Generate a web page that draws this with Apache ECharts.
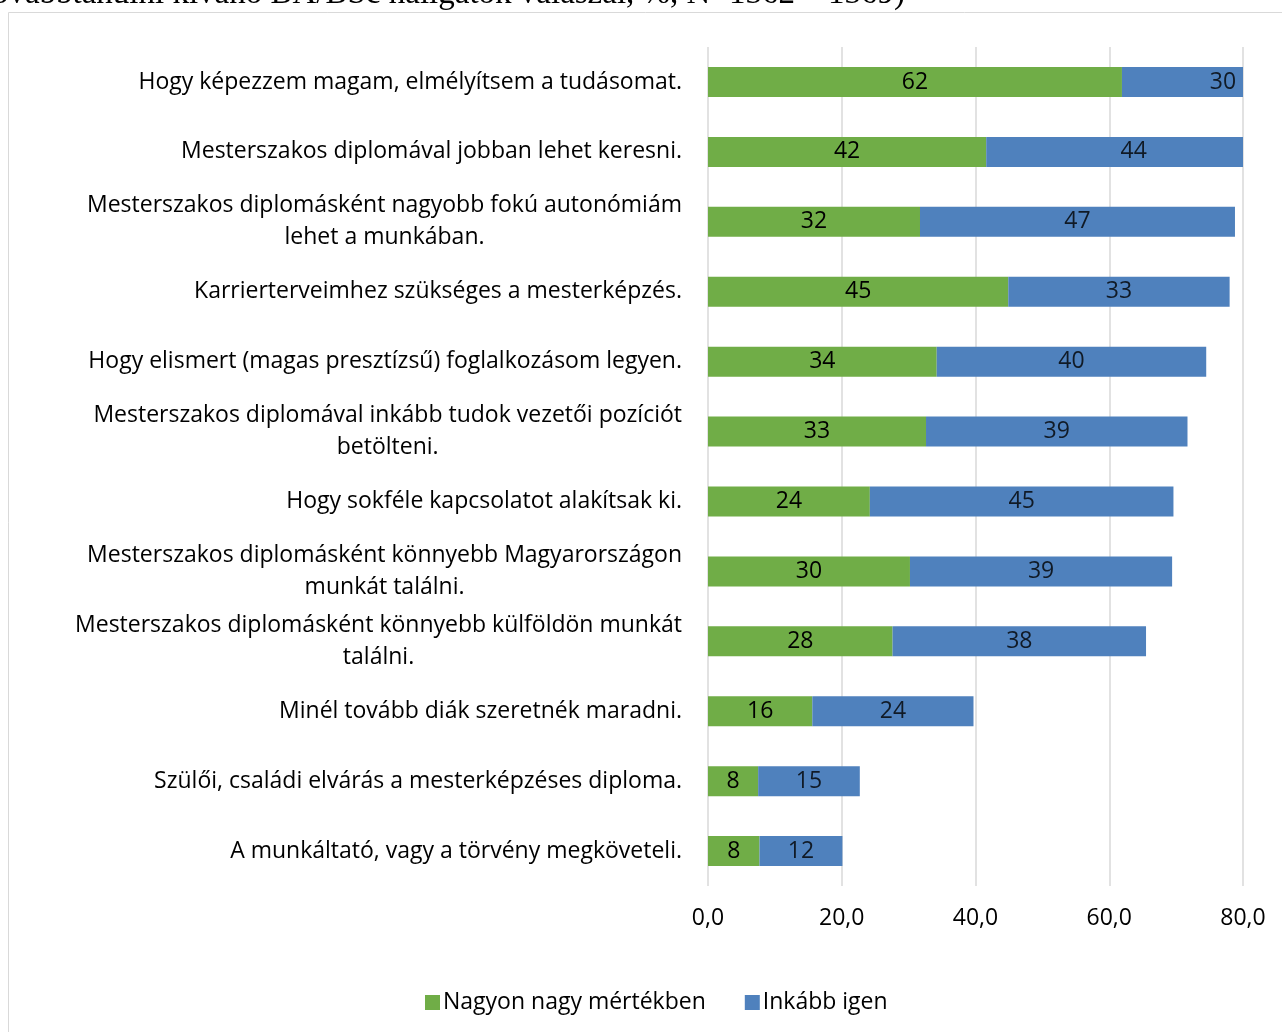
<!DOCTYPE html>
<html>
<head>
<meta charset="utf-8">
<script src="https://cdn.jsdelivr.net/npm/echarts@6/dist/echarts.min.js"></script>
<style>
    html, body { margin: 0; padding: 0; background: #fff; }
    #chart { width: 1282px; height: 1032px; }
</style>
</head>
<body>
<div id="chart"></div>
<script>
// 分类（从上到下）
const categories = [
    'Hogy képezzem magam, elmélyítsem a tudásomat.',
    'Mesterszakos diplomával jobban lehet keresni.',
    'Mesterszakos diplomásként nagyobb fokú autonómiám\nlehet a munkában.',
    'Karrierterveimhez szükséges a mesterképzés.',
    'Hogy elismert (magas presztízsű) foglalkozásom legyen.',
    'Mesterszakos diplomával inkább tudok vezetői pozíciót\nbetölteni.',
    'Hogy sokféle kapcsolatot alakítsak ki.',
    'Mesterszakos diplomásként könnyebb Magyarországon\nmunkát találni.',
    'Mesterszakos diplomásként könnyebb külföldön munkát\ntalálni.',
    'Minél tovább diák szeretnék maradni.',
    'Szülői, családi elvárás a mesterképzéses diploma.',
    'A munkáltató, vagy a törvény megköveteli.'
];

// 数据系列
const seriesNames = ['Nagyon nagy mértékben', 'Inkább igen'];
const veryMuch = [61.9, 41.6, 31.7, 44.9, 34.2, 32.6, 24.2, 30.2, 27.6, 15.6, 7.5, 7.7];
const ratherYes = [30.2, 44.1, 47.1, 33.1, 40.3, 39.1, 45.4, 39.2, 37.9, 24.1, 15.2, 12.4];

// 横轴刻度
const xTicks = [0, 20, 40, 60, 80];

const colors = ['#70AD47', '#4F81BD'];
const fontFamily = '"Open Sans", Lato, sans-serif';
const fontSize = 23;

const chart = echarts.init(document.getElementById('chart'));

// 蓝色段标签放在整段中心（即使柱子超出坐标轴被裁剪）
const blueLabelPoints = ratherYes.map((v, i) => [veryMuch[i] + v / 2, i, v]);

const option = {
    animation: false,
    color: colors,
    textStyle: { fontFamily: fontFamily },
    graphic: [
        {
            type: 'rect',
            shape: { x: 8.5, y: 12.5, width: 1300, height: 1100 },
            style: { fill: 'none', stroke: '#d9d9d9', lineWidth: 1 },
            silent: true
        },
        {
            type: 'text',
            x: 905,
            y: 11,
            style: {
                text: 'továbbtanulni kívánó BA/BSc hallgatók válaszai, %, N=1362 – 1369)',
                font: '33px "Liberation Serif", serif',
                fill: '#000',
                align: 'right',
                verticalAlign: 'bottom'
            },
            silent: true
        }
    ],
    legend: {
        data: seriesNames,
        left: 420,
        top: 986,
        itemWidth: 15,
        itemHeight: 15,
        itemGap: 39,
        icon: 'rect',
        textStyle: { fontSize: fontSize, color: '#000', fontFamily: fontFamily, padding: [0, 0, 0, -2] }
    },
    grid: {
        left: 708,
        right: 39,
        top: 47,
        bottom: 146,
        containLabel: false
    },
    xAxis: {
        type: 'value',
        min: xTicks[0],
        max: xTicks[xTicks.length - 1],
        interval: xTicks[1] - xTicks[0],
        axisLine: { show: false },
        axisTick: { show: false },
        splitLine: { show: true, lineStyle: { color: '#d9d9d9', width: 1.5 } },
        axisLabel: {
            margin: 21,
            fontSize: fontSize,
            color: '#000',
            fontFamily: fontFamily,
            formatter: v => v.toFixed(1).replace('.', ',')
        }
    },
    yAxis: {
        type: 'category',
        inverse: true,
        data: categories,
        axisLine: { show: false },
        axisTick: { show: false },
        axisLabel: {
            margin: 26,
            fontSize: fontSize,
            color: '#000',
            fontFamily: fontFamily,
            lineHeight: 32,
            align: 'right',
            formatter: v => v.split('\n').map(s => '{c|' + s + '}').join('\n'),
            rich: {
                c: { align: 'center', fontSize: fontSize, lineHeight: 32, color: '#000', fontFamily: fontFamily }
            }
        }
    },
    series: [
        {
            name: seriesNames[0],
            type: 'bar',
            stack: 'total',
            barWidth: 30,
            data: veryMuch,
            itemStyle: { color: colors[0] },
            label: {
                show: true,
                position: 'inside',
                color: '#000',
                fontSize: fontSize,
                fontFamily: fontFamily,
                formatter: p => Math.round(p.value)
            }
        },
        {
            name: seriesNames[1],
            type: 'bar',
            stack: 'total',
            barWidth: 30,
            data: ratherYes,
            itemStyle: { color: colors[1] },
            label: { show: false }
        },
        {
            name: 'blueLabels',
            type: 'scatter',
            symbolSize: 0,
            silent: true,
            data: blueLabelPoints,
            label: {
                show: true,
                position: 'inside',
                color: '#000',
                fontSize: fontSize,
                fontFamily: fontFamily,
                formatter: p => Math.round(p.value[2])
            },
            z: 5
        }
    ]
};

chart.setOption(option);

window.addEventListener('resize', function() {
    chart.resize();
});
</script>
</body>
</html>
